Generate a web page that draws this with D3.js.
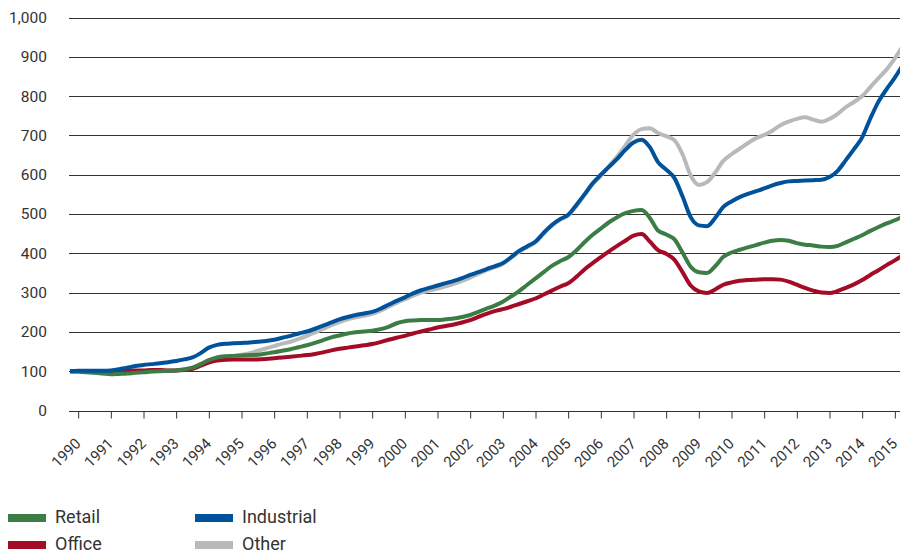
<!DOCTYPE html>
<html>
<head>
<meta charset="utf-8">
<script src="https://cdn.jsdelivr.net/npm/d3@7"></script>
<style>
  html, body { margin: 0; padding: 0; background: #fff; }
  svg text { font-family: Roboto, "Open Sans", sans-serif; fill: #333; }
</style>
</head>
<body>
<svg id="chart" width="900" height="555"></svg>
<script>
// Quarterly periods, 1989 Q4 through 2015 Q2
const periods = d3.range(0, 103).map(i => 1989.75 + i * 0.25);

const yearTicks = d3.range(1990, 2016);
const valueTicks = d3.range(0, 1001, 100);

const industrial = [
  100, 101, 101, 101, 101, 102, 105, 109, 113, 116, 118, 120, 123, 126, 130, 135, 146,
  160, 167, 170, 171, 172, 173, 175, 177, 180, 185, 190, 196, 201, 208, 216, 224,
  232, 238, 243, 247, 251, 259, 269, 279, 288, 298, 306, 312, 318, 324, 330, 337,
  345, 352, 360, 367, 375, 390, 406, 418, 430, 452, 472, 487, 498, 523, 550, 578,
  600, 620, 640, 663, 682, 689, 670, 632, 613, 592, 545, 492, 471, 469, 490, 518,
  532, 543, 551, 558, 565, 573, 579, 583, 584, 585, 586, 587, 594, 610, 637, 665,
  695, 743, 786, 818, 847, 880
];

const other = [
  100, 99, 98, 97, 96, 96, 97, 98, 99, 100, 101, 101, 101, 102, 104, 108, 118,
  128, 134, 137, 139, 142, 146, 152, 158, 164, 170, 175, 182, 190, 199, 208, 217,
  225, 232, 237, 241, 246, 254, 264, 274, 283, 292, 300, 305, 310, 316, 322, 330,
  338, 348, 357, 365, 373, 388, 404, 416, 428, 450, 470, 485, 496, 520, 548, 576,
  597, 622, 646, 674, 702, 716, 718, 706, 698, 688, 652, 598, 574, 581, 605, 635,
  652, 666, 680, 693, 701, 712, 726, 735, 742, 746, 740, 735, 742, 755, 772, 785,
  800, 823, 846, 868, 896, 928
];

const retail = [
  100, 99, 97, 96, 94, 92, 93, 94, 96, 97, 99, 100, 101, 102, 105, 109, 118,
  128, 135, 138, 139, 140, 141, 142, 145, 148, 152, 156, 161, 166, 172, 179, 186,
  191, 196, 199, 201, 203, 207, 213, 222, 227, 229, 230, 230, 230, 232, 234, 238,
  243, 251, 259, 267, 277, 290, 304, 320, 336, 352, 368, 380, 390, 407, 428, 447,
  463, 479, 492, 502, 508, 510, 490, 458, 448, 436, 402, 366, 352, 350, 367, 391,
  402, 409, 415, 421, 427, 432, 434, 432, 426, 422, 420, 417, 416, 419, 428, 437,
  446, 457, 467, 476, 484, 494
];

const office = [
  100, 100, 100, 100, 99, 98, 100, 101, 102, 102, 103, 103, 102, 102, 103, 106, 114,
  122, 127, 129, 130, 130, 130, 130, 131, 133, 135, 137, 139, 141, 144, 148, 153,
  157, 160, 163, 166, 169, 174, 180, 185, 190, 196, 201, 206, 211, 215, 219, 224,
  230, 238, 246, 253, 258, 264, 271, 278, 285, 295, 305, 315, 324, 340, 359, 375,
  390, 405, 419, 432, 445, 449, 430, 408, 399, 384, 352, 318, 303, 299, 308, 320,
  326, 330, 332, 333, 334, 334, 333, 328, 320, 312, 305, 300, 299, 304, 312, 321,
  332, 345, 357, 370, 382, 395
];

const seriesNames = ["Other", "Office", "Retail", "Industrial"];
const seriesValues = [other, office, retail, industrial];
const seriesColors = ["#b9b9b9", "#a30b26", "#3b7d44", "#00529b"];

const legendNames = ["Retail", "Industrial", "Office", "Other"];
const legendColors = ["#3b7d44", "#00529b", "#a30b26", "#b9b9b9"];

const svg = d3.select("#chart");
const plotLeft = 69, plotRight = 900, plotTop = 17.5, plotBottom = 410.5;

const x = d3.scaleLinear().domain([1989.75, 2015.25]).range([70, 903]);
const y = d3.scaleLinear().domain([0, 1000]).range([plotBottom, plotTop]);

svg.append("defs").append("clipPath").attr("id", "plot")
  .append("rect").attr("x", plotLeft - 2).attr("y", 0)
  .attr("width", plotRight - plotLeft + 2).attr("height", plotBottom + 2);

// horizontal grid lines
svg.append("g")
  .selectAll("line")
  .data(valueTicks.filter(v => v > 0))
  .join("line")
  .attr("x1", plotLeft).attr("x2", plotRight)
  .attr("y1", d => Math.round(y(d)) + 0.5).attr("y2", d => Math.round(y(d)) + 0.5)
  .attr("stroke", "#333").attr("stroke-width", 1);

// value labels
svg.append("g")
  .selectAll("text")
  .data(valueTicks)
  .join("text")
  .attr("x", 47)
  .attr("y", d => y(d))
  .attr("dy", "0.35em")
  .attr("text-anchor", "end")
  .attr("font-size", 15.5)
  .text(d => d3.format(",")(d));

// x axis with year ticks
const xAxis = d3.axisBottom(x)
  .tickValues(yearTicks)
  .tickSize(7)
  .tickFormat(d3.format("d"));

const gx = svg.append("g")
  .attr("transform", `translate(0,${Math.round(plotBottom) + 0.5})`)
  .call(xAxis);
gx.select(".domain").attr("d", `M${plotLeft},0H${plotRight}`).attr("stroke", "#333");
gx.selectAll(".tick line").attr("stroke", "#333");
gx.selectAll(".tick text")
  .attr("font-size", 15)
  .attr("font-family", "Roboto, sans-serif")
  .attr("fill", "#333")
  .attr("text-anchor", "end")
  .attr("y", 0)
  .attr("dy", 0)
  .attr("transform", "translate(3,33) rotate(-45)");

// series lines
const line = d3.line()
  .x((d, i) => x(periods[i]))
  .y(d => y(d))
  .curve(d3.curveMonotoneX);

svg.append("g")
  .attr("clip-path", "url(#plot)")
  .selectAll("path")
  .data(seriesValues)
  .join("path")
  .attr("fill", "none")
  .attr("stroke", (d, i) => seriesColors[i])
  .attr("stroke-width", 4)
  .attr("stroke-linejoin", "round")
  .attr("d", d => line(d));

// legend
const legend = svg.append("g");
const legendPos = [[8, 514], [195, 514], [8, 541], [195, 541]];
legendNames.forEach((name, i) => {
  const [lx, ly] = legendPos[i];
  legend.append("rect")
    .attr("x", lx).attr("y", ly).attr("width", 38).attr("height", 8)
    .attr("fill", legendColors[i]);
  legend.append("text")
    .attr("x", lx + 47).attr("y", ly + 9)
    .attr("font-size", 18)
    .attr("fill", "#222")
    .text(name);
});
</script>
</body>
</html>
